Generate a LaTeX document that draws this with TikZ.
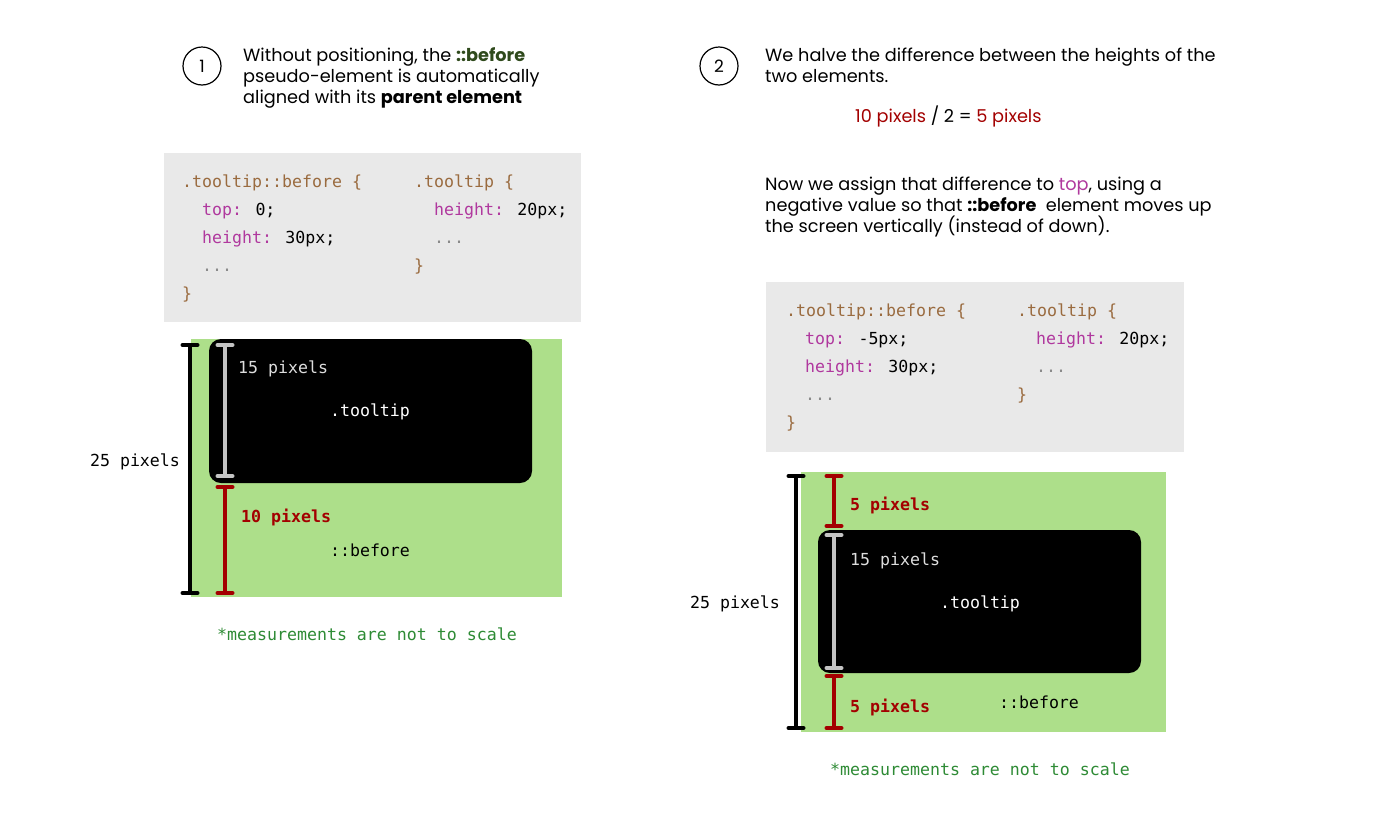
\documentclass[tikz,border=0pt]{standalone}
\usepackage{fontspec}
\setmainfont{Poppins}
\newfontfamily\codefont{DejaVu Sans Mono}
\usetikzlibrary{arrows.meta}
\definecolor{codebg}{HTML}{E9E9E9}
\definecolor{selc}{HTML}{9A6B3F}
\definecolor{propc}{HTML}{B0389E}
\definecolor{dotc}{HTML}{8A8A8A}
\definecolor{boxgreen}{HTML}{ADDF8A}
\definecolor{mred}{HTML}{A30000}
\definecolor{mgray}{HTML}{C4C4C4}
\definecolor{lbl}{HTML}{DDDDDD}
\definecolor{notegreen}{HTML}{2E8B35}
\definecolor{darkgreen}{HTML}{2F4A1C}
\tikzset{
  body/.style={font=\fontsize{17.7}{21}\selectfont, anchor=base west, inner sep=0pt, align=left},
  code/.style={font=\codefont\fontsize{16.6}{20}\selectfont, anchor=base west, inner sep=0pt},
  mlabel/.style={font=\codefont\fontsize{16.6}{20}\selectfont, anchor=base west, inner sep=0pt},
  numcirc/.style={circle, draw, line width=1.2pt, minimum size=38pt, inner sep=0pt, font=\fontsize{17}{21}\selectfont},
  codebox/.style={fill=codebg, draw=none},
  outerbox/.style={fill=boxgreen, draw=none},
  innerbox/.style={fill=black, draw=none, rounded corners=12pt},
  meas/.style={line width=4pt, {Bar[width=15pt,round]}-{Bar[width=15pt,round]}},
  note/.style={font=\codefont\fontsize{16.6}{20}\selectfont, text=notegreen, anchor=base, inner sep=0pt}
}
\begin{document}
\begin{tikzpicture}[x=1pt,y=-1pt]
\useasboundingbox (0,0) rectangle (1400,825);
\fill[white] (0,0) rectangle (1400,825);

% ---------- Step 1 ----------
\node[numcirc] (c1) at (202,66) {1};
\node[body] (t1a) at (243,61) {Without positioning, the \textbf{\color{darkgreen}::before}};
\node[body] (t1b) at (243,82) {pseudo-element is automatically};
\node[body] (t1c) at (243,103) {aligned with its \textbf{parent element}};

\path[codebox] (164,153) rectangle (581,322);
\node[code] (l1) at (182,187) {\color{selc}.tooltip::before \{};
\node[code] (l2) at (202,215) {\color{propc}top: \color{black}0;};
\node[code] (l3) at (202,243) {\color{propc}height: \color{black}30px;};
\node[code] (l4) at (202,271) {\color{dotc}...};
\node[code] (l5) at (182,299) {\color{selc}\}};
\node[code] (r1) at (414,187) {\color{selc}.tooltip \{};
\node[code] (r2) at (434,215) {\color{propc}height: \color{black}20px;};
\node[code] (r3) at (434,243) {\color{dotc}...};
\node[code] (r4) at (414,271) {\color{selc}\}};

\path[outerbox] (191,339) rectangle (562,597);
\path[innerbox] (209,339) rectangle (532,483);

\coordinate (b1t) at (190,343);
\coordinate (b1b) at (190,595);
\coordinate (g1t) at (225,343);
\coordinate (g1b) at (225,478);
\coordinate (r1t) at (225,485);
\coordinate (r1b) at (225,595);
\draw[meas, black] (b1t) -- (b1b);
\draw[meas, mgray] (g1t) -- (g1b);
\draw[meas, mred] (r1t) -- (r1b);

\node[mlabel, anchor=base] (p25a) at (135,466) {25 pixels};
\node[mlabel, text=lbl] (p15a) at (238,373) {15 pixels};
\node[mlabel, text=white, anchor=base] (tta) at (370,416) {.tooltip};
\node[mlabel, text=mred, font=\codefont\bfseries\fontsize{16.6}{20}\selectfont] (p10a) at (241,522) {10 pixels};
\node[mlabel, anchor=base] (bfa) at (370,556) {::before};
\node[note] (n1) at (367,640) {*measurements are not to scale};

% ---------- Step 2 ----------
\node[numcirc] (c2) at (719,66) {2};
\node[body] (t2a) at (765,61) {We halve the difference between the heights of the};
\node[body] (t2b) at (765,82) {two elements.};
\node[body] (t2c) at (855,122) {{\color{mred}10 pixels} / 2 = {\color{mred}5 pixels}};
\node[body] (t2d) at (765,190) {Now we assign that difference to {\color{propc}top}, using a};
\node[body] (t2e) at (765,211) {negative value so that \textbf{::before}\ \ element moves up};
\node[body] (t2f) at (765,232) {the screen vertically (instead of down).};

\path[codebox] (766,282) rectangle (1184,452);
\node[code] (m1) at (786,316) {\color{selc}.tooltip::before \{};
\node[code] (m2) at (805,344) {\color{propc}top: \color{black}-5px;};
\node[code] (m3) at (805,372) {\color{propc}height: \color{black}30px;};
\node[code] (m4) at (805,400) {\color{dotc}...};
\node[code] (m5) at (786,428) {\color{selc}\}};
\node[code] (s1) at (1017,316) {\color{selc}.tooltip \{};
\node[code] (s2) at (1036,344) {\color{propc}height: \color{black}20px;};
\node[code] (s3) at (1036,372) {\color{dotc}...};
\node[code] (s4) at (1017,400) {\color{selc}\}};

\path[outerbox] (801,472) rectangle (1166,732);
\path[innerbox] (818,530) rectangle (1141,673);

\coordinate (b2t) at (796,474);
\coordinate (b2b) at (796,730);
\coordinate (r2t) at (834,474);
\coordinate (r2b) at (834,528);
\coordinate (g2t) at (834,533);
\coordinate (g2b) at (834,670);
\coordinate (r3t) at (834,674);
\coordinate (r3b) at (834,730);
\draw[meas, black] (b2t) -- (b2b);
\draw[meas, mred] (r2t) -- (r2b);
\draw[meas, mgray] (g2t) -- (g2b);
\draw[meas, mred] (r3t) -- (r3b);

\node[mlabel, anchor=base] (p25b) at (735,608) {25 pixels};
\node[mlabel, text=mred, font=\codefont\bfseries\fontsize{16.6}{20}\selectfont] (p5a) at (850,510) {5 pixels};
\node[mlabel, text=lbl] (p15b) at (850,565) {15 pixels};
\node[mlabel, text=white, anchor=base] (ttb) at (980,608) {.tooltip};
\node[mlabel, text=mred, font=\codefont\bfseries\fontsize{16.6}{20}\selectfont] (p5b) at (850,712) {5 pixels};
\node[mlabel, anchor=base] (bfb) at (1039,708) {::before};
\node[note] (n2) at (980,775) {*measurements are not to scale};
\end{tikzpicture}
\end{document}
